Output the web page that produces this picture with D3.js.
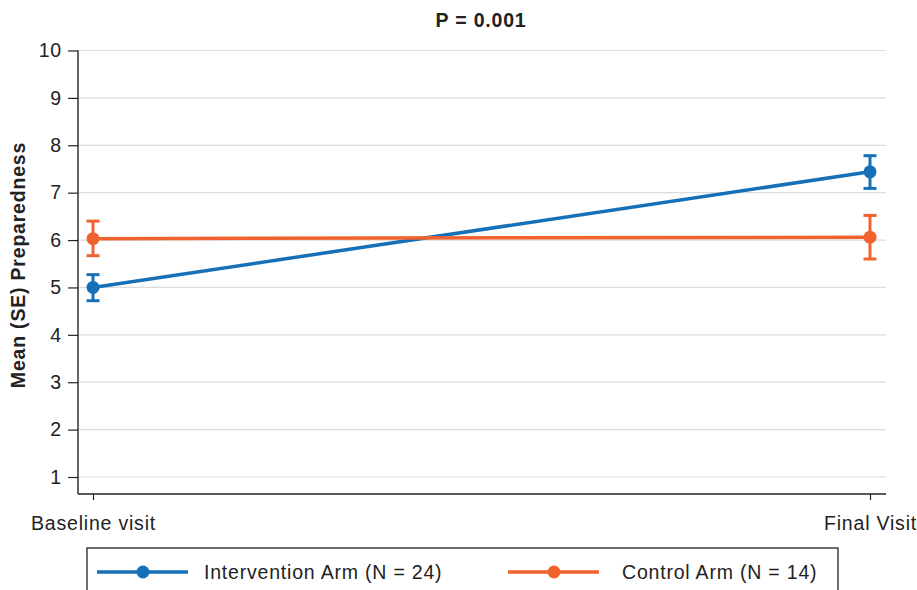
<!DOCTYPE html>
<html lang="en">
<head>
    <meta charset="UTF-8">
    <title>Mean (SE) Preparedness</title>
    <script src="https://d3js.org/d3.v7.min.js"></script>
    <style>
        body, html {
            margin: 0;
            padding: 0;
            overflow: hidden;
            background: #fff;
        }
        text {
            font-family: "Liberation Sans", Arial, sans-serif;
            fill: #222;
            letter-spacing: 0.8px;
        }
        .tick-label { font-size: 19.5px; }
        .bold { font-weight: bold; }
    </style>
</head>
<body>
    <svg width="917" height="590" id="chart"></svg>
    <script>
        const visits = ["Baseline visit", "Final Visit"];
        const yTicks = [1, 2, 3, 4, 5, 6, 7, 8, 9, 10];

        const interventionMean = [5.0, 7.44];
        const interventionLow = [4.72, 7.09];
        const interventionHigh = [5.27, 7.78];

        const controlMean = [6.03, 6.06];
        const controlLow = [5.67, 5.60];
        const controlHigh = [6.40, 6.52];

        const seriesNames = ["Intervention Arm (N = 24)", "Control Arm (N = 14)"];
        const colors = ["#1570b7", "#f2622e"];

        const series = [
            { name: seriesNames[0], color: colors[0], mean: interventionMean, lo: interventionLow, hi: interventionHigh },
            { name: seriesNames[1], color: colors[1], mean: controlMean, lo: controlLow, hi: controlHigh }
        ];

        const svg = d3.select("#chart");
        const plotLeft = 78, plotRight = 886, plotTop = 50.5, plotBottom = 494;

        const y = d3.scaleLinear().domain([1, 10]).range([477, plotTop]);
        const x = d3.scalePoint().domain(visits).range([93, 870]);

        // gridlines
        svg.append("g")
            .selectAll("line")
            .data(yTicks)
            .enter()
            .append("line")
            .attr("x1", plotLeft)
            .attr("x2", plotRight)
            .attr("y1", d => y(d))
            .attr("y2", d => y(d))
            .attr("stroke", "#dcdcdc")
            .attr("stroke-width", 1.2);

        // y axis
        const yAxis = svg.append("g")
            .attr("transform", `translate(${plotLeft},0)`)
            .call(d3.axisLeft(y).tickValues(yTicks).tickSize(10).tickPadding(6).tickFormat(d3.format("d")));
        yAxis.select(".domain").attr("d", `M0,${plotTop}V${plotBottom}`).attr("stroke", "#222").attr("stroke-width", 1.4);
        yAxis.selectAll(".tick line").attr("stroke", "#222").attr("stroke-width", 1.2);
        yAxis.selectAll(".tick text").attr("class", "tick-label");
        yAxis.attr("font-size", null).attr("font-family", null);

        // x axis
        const xAxis = svg.append("g")
            .attr("transform", `translate(0,${plotBottom})`)
            .call(d3.axisBottom(x).tickSize(6).tickPadding(16));
        xAxis.select(".domain").attr("d", `M${plotLeft},0H${plotRight}`).attr("stroke", "#222").attr("stroke-width", 1.4);
        xAxis.selectAll(".tick line").attr("stroke", "#222").attr("stroke-width", 1.2);
        xAxis.selectAll(".tick text").attr("class", "tick-label");
        xAxis.attr("font-size", null).attr("font-family", null);

        // series
        const line = d3.line()
            .x((d, i) => x(visits[i]))
            .y(d => y(d));

        series.forEach(s => {
            const g = svg.append("g");
            g.append("path")
                .attr("d", line(s.mean))
                .attr("fill", "none")
                .attr("stroke", s.color)
                .attr("stroke-width", 3.5);

            visits.forEach((v, i) => {
                const cx = x(v);
                g.append("line")
                    .attr("x1", cx).attr("x2", cx)
                    .attr("y1", y(s.lo[i])).attr("y2", y(s.hi[i]))
                    .attr("stroke", s.color).attr("stroke-width", 3);
                [s.lo[i], s.hi[i]].forEach(val => {
                    g.append("line")
                        .attr("x1", cx - 6.5).attr("x2", cx + 6.5)
                        .attr("y1", y(val)).attr("y2", y(val))
                        .attr("stroke", s.color).attr("stroke-width", 3);
                });
                g.append("circle")
                    .attr("cx", cx)
                    .attr("cy", y(s.mean[i]))
                    .attr("r", 6.5)
                    .attr("fill", s.color);
            });
        });

        // title
        svg.append("text")
            .attr("class", "bold")
            .attr("x", 481)
            .attr("y", 26.5)
            .attr("text-anchor", "middle")
            .attr("font-size", "19.5px")
            .text("P = 0.001");

        // y label
        svg.append("text")
            .attr("class", "bold")
            .attr("transform", "translate(25,265) rotate(-90)")
            .attr("text-anchor", "middle")
            .attr("font-size", "19.5px")
            .text("Mean (SE) Preparedness");

        // legend
        const legend = svg.append("g");
        legend.append("rect")
            .attr("x", 87)
            .attr("y", 548)
            .attr("width", 751)
            .attr("height", 60)
            .attr("fill", "#fff")
            .attr("stroke", "#222")
            .attr("stroke-width", 1.3);

        const legendLineX = [97, 508];
        const legendTextX = [204, 622];
        series.forEach((s, i) => {
            const lx = legendLineX[i];
            const ly = 572;
            legend.append("line")
                .attr("x1", lx).attr("x2", lx + 91)
                .attr("y1", ly).attr("y2", ly)
                .attr("stroke", s.color).attr("stroke-width", 3.5);
            legend.append("circle")
                .attr("cx", lx + 46).attr("cy", ly).attr("r", 6.5)
                .attr("fill", s.color);
            legend.append("text")
                .attr("x", legendTextX[i])
                .attr("y", ly + 7)
                .attr("font-size", "19.5px")
                .text(s.name);
        });
    </script>
</body>
</html>
